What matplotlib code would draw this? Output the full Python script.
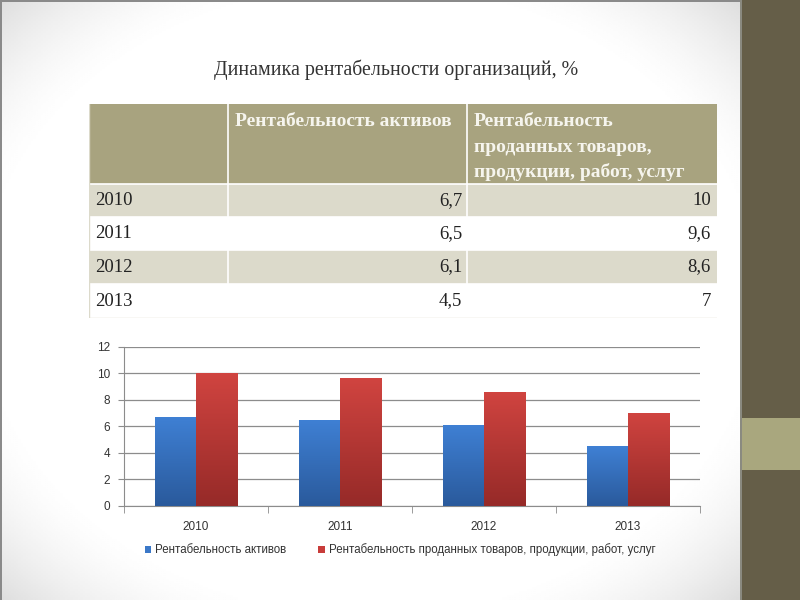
import matplotlib
matplotlib.use('Agg')
import matplotlib.pyplot as plt
import numpy as np
from matplotlib.patches import Rectangle

# data
years = ['2010', '2011', '2012', '2013']
assets = [6.7, 6.5, 6.1, 4.5]  # рентабельность активов
sales = [10, 9.6, 8.6, 7]  # рентабельность проданных товаров
assets_txt = ['6,7', '6,5', '6,1', '4,5']
sales_txt = ['10', '9,6', '8,6', '7']
col_heads = ['Рентабельность активов',
             'Рентабельность\nпроданных товаров,\nпродукции, работ, услуг']
series_names = ['Рентабельность активов',
                'Рентабельность проданных товаров, продукции, работ, услуг']
title = 'Динамика рентабельности организаций, %'

W, H = 800, 600


def fx(x):
    return x / W


def fy(y):
    return 1 - y / H


fig = plt.figure(figsize=(8, 6), dpi=100)
fig.patch.set_facecolor('white')

# slide background (radial vignette towards the corners) and the right band
bg = fig.add_axes([0, 0, fx(740), 1])
bg.axis('off')
gx, gy = np.meshgrid(np.linspace(-1, 1, 300), np.linspace(-1, 1, 300))
r = np.sqrt(gx ** 2 + gy ** 2) / np.sqrt(2)
vign = 1 - 0.13 * np.clip((r - 0.72) / 0.28, 0, 1) ** 1.6
bg.imshow(vign, cmap='gray', vmin=0, vmax=1, aspect='auto', extent=[0, 1, 0, 1])
bg.set_xlim(0, 1)
bg.set_ylim(0, 1)
fig.patches.append(Rectangle((fx(740), 0), 1 - fx(740), 1, transform=fig.transFigure,
                             facecolor='#655e48', edgecolor='none', zorder=0))
fig.patches.append(Rectangle((fx(740), fy(470)), 1 - fx(740), (470 - 418) / H,
                             transform=fig.transFigure, facecolor='#a9a77e',
                             edgecolor='none', zorder=0))
fig.patches.append(Rectangle((fx(740), 0), 1.5 / W, 1, transform=fig.transFigure,
                             facecolor='#8a8a80', edgecolor='none', zorder=1))
fig.patches.append(Rectangle((0, 0), 1.5 / W, 1, transform=fig.transFigure,
                             facecolor='#8a8a8a', edgecolor='none', zorder=1))
fig.patches.append(Rectangle((0, 1 - 1.5 / H), fx(740), 1.5 / H, transform=fig.transFigure,
                             facecolor='#8a8a8a', edgecolor='none', zorder=1))

fig.text(0.495, fy(70), title, ha='center', va='center', fontsize=14.3,
         family='Liberation Serif', color='#333333')

# table
tb = fig.add_axes([fx(89), fy(318), (717 - 89) / W, (318 - 104) / H])
tb.set_xlim(0, 628)
tb.set_ylim(214, 0)
tb.axis('off')
cols = [0, 139, 378, 628]
rows = [0, 80, 113, 146, 180, 214]
head_col = '#a8a37f'
band_col = '#dcdacb'
tb.add_patch(Rectangle((0, 0), 628, 80, facecolor=head_col, edgecolor='none'))
for i in range(len(years)):
    c = band_col if i % 2 == 0 else 'white'
    tb.add_patch(Rectangle((0, rows[i + 1]), 628, rows[i + 2] - rows[i + 1],
                           facecolor=c, edgecolor='none'))
for rr in rows[1:-1]:
    tb.plot([0, 628], [rr, rr], color='white', lw=1.2)
for c in cols[1:-1]:
    tb.plot([c, c], [0, 214], color='white', lw=1.2)
tb.plot([0, 628], [214, 214], color='#dcdacb', lw=1)
tb.plot([0, 0], [0, 214], color='#dcdacb', lw=1)

serif = 'Liberation Serif'
for j, head in enumerate(col_heads):
    for k, line in enumerate(head.split('\n')):
        tb.text(cols[j + 1] + 7, 18 + 25 * k, line, ha='left', va='center', fontsize=14,
                family=serif, weight='bold', color='#f6f5ee')
for i, y in enumerate(years):
    yc = (rows[i + 1] + rows[i + 2]) / 2
    tb.text(6, yc, y, ha='left', va='center', fontsize=13.5, family=serif, color='#222222')
    tb.text(cols[2] - 5, yc, assets_txt[i], ha='right', va='center', fontsize=13.5,
            family=serif, color='#222222')
    tb.text(cols[3] - 6, yc, sales_txt[i], ha='right', va='center', fontsize=13.5,
            family=serif, color='#222222')

# bar chart
ax = fig.add_axes([fx(124), fy(506), (700 - 124) / W, (506 - 346.5) / H])
ax.set_facecolor('none')
x = np.arange(len(years))
w = 0.285
b1 = ax.bar(x - w / 2, assets, w, color='#3b78c8', zorder=3)
b2 = ax.bar(x + w / 2, sales, w, color='#c83c3a', zorder=3)


def gradient(bars, top, bottom):
    cmap = matplotlib.colors.LinearSegmentedColormap.from_list('g', [bottom, top])
    grad = np.linspace(0, 1, 100).reshape(-1, 1)
    for b in bars:
        x0, y0 = b.get_x(), b.get_y()
        im = ax.imshow(grad, cmap=cmap, aspect='auto', origin='lower',
                       extent=[x0, x0 + b.get_width(), y0, y0 + b.get_height()], zorder=4)
        im.set_clip_path(b)


gradient(b1, '#3f80d4', '#2a5a9c')
gradient(b2, '#d04440', '#962a28')

ax.set_xlim(-0.5, 3.5)
ax.set_ylim(0, 12)
ax.set_yticks(range(0, 13, 2))
ax.set_xticks(x)
ax.set_xticklabels(years)
ax.set_xticks(np.arange(-0.5, 4, 1), minor=True)
ax.grid(axis='y', color='#8c8c8c', lw=0.9, zorder=0)
for s in ['top', 'right']:
    ax.spines[s].set_visible(False)
ax.spines['left'].set_color('#8c8c8c')
ax.spines['bottom'].set_color('#8c8c8c')
ax.tick_params(axis='x', which='major', length=0, pad=11, labelsize=8.5, labelcolor='#333333')
ax.tick_params(axis='x', which='minor', length=5, color='#8c8c8c')
ax.tick_params(axis='y', length=4, color='#8c8c8c', labelsize=8.5, labelcolor='#333333', pad=6)
for lab in ax.get_xticklabels() + ax.get_yticklabels():
    lab.set_family('Liberation Sans')

leg = fig.legend([b1, b2], series_names, loc='center', bbox_to_anchor=(0.5, fy(550)),
                 ncol=2, frameon=False, handlelength=0.6, handleheight=0.6,
                 handletextpad=0.3, columnspacing=2.8, prop={'family': 'Liberation Sans', 'size': 8.3})
for t in leg.get_texts():
    t.set_color('#333333')

fig.savefig('out.png', dpi=100)
